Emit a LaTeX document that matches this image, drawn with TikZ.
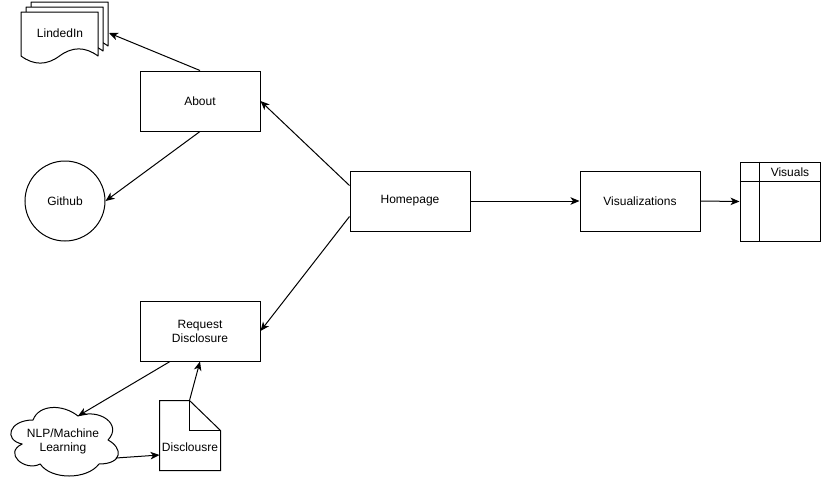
\documentclass[tikz,border=0pt]{standalone}
\usepackage{fontspec}
\setmainfont{Liberation Sans}
\usetikzlibrary{shapes.geometric,arrows.meta}

\begin{document}
\begin{tikzpicture}[x=1pt,y=-1pt,line width=1pt,
  txt/.style={font=\fontsize{12}{14}\selectfont,align=center,inner sep=0pt},
  box/.style={txt,draw,rectangle,minimum width=120pt,minimum height=60pt},
  link/.style={-{Stealth[length=9pt,width=7.5pt,inset=2.5pt]}},
  page/.style={draw,fill=white,line join=round}]

\useasboundingbox (0,0) rectangle (821,482);

% stacked pages of the LindedIn document
\foreach \px/\py in {31/2,26/7,21/12}{
  \begin{scope}[shift={(\px,\py)}]
    \path[page] (0,0) -- (77,0) -- (77,44)
      .. controls (64.17,34.5) and (51.33,34.5) .. (38.5,44)
      .. controls (25.67,53.5) and (12.83,53.5) .. (0,44) -- cycle;
  \end{scope}
}
\node[txt] (linkedin) at (60,33) {LindedIn};
\coordinate (linkedinEdge) at (109,33);

% main boxes
\node[box] (about)    at (200,101) {About};
\node[box] (homepage) at (410,201) {Homepage};
\node[box] (viz)      at (640,201) {Visualizations};
\node[box] (request)  at (200,331) {Request\\Disclosure};

% Github circle
\node[txt,draw,circle,minimum size=80pt] (github) at (65,201) {Github};

% Visuals table
\node[draw,rectangle,minimum width=80pt,minimum height=79pt,inner sep=0pt] (visuals) at (780,201.5) {};
\draw ([yshift=-20pt]visuals.north west) -- ([yshift=-20pt]visuals.north east);
\draw ([xshift=20pt]visuals.north west) -- ([xshift=20pt]visuals.south west);
\node[txt] (visualsTitle) at (790,172) {Visuals};

% NLP cloud, drawn inside a 120 x 80 frame
\begin{scope}[shift={(3,400)},x=120pt,y=-80pt]
  \draw[line join=round] (0.25,0.25)
    .. controls (0.05,0.25) and (0,0.5) .. (0.16,0.55)
    .. controls (0,0.66) and (0.18,0.9) .. (0.31,0.8)
    .. controls (0.4,1) and (0.7,1) .. (0.8,0.8)
    .. controls (1,0.8) and (1,0.6) .. (0.875,0.5)
    .. controls (1,0.3) and (0.8,0.1) .. (0.625,0.2)
    .. controls (0.5,0.05) and (0.3,0.05) .. (0.25,0.25) -- cycle;
  \coordinate (nlpTop) at (0.625,0.2);
  \coordinate (nlpRight) at (0.94,0.725);
\end{scope}
\node[txt] (nlp) at (63,441) {NLP/Machine\\Learning};

% Disclousre note with folded corner
\node[minimum width=60pt,minimum height=69pt,inner sep=0pt] (disc) at (190,435.5) {};
\draw[line join=miter] (disc.north west) -- ([xshift=30pt]disc.north west)
  -- ([yshift=-30pt]disc.north east) -- (disc.south east) -- (disc.south west) -- cycle;
\draw ([xshift=30pt]disc.north west) -- ([xshift=30pt,yshift=-30pt]disc.north west)
  -- ([yshift=-30pt]disc.north east);
\node[txt] (discText) at (190,447) {Disclousre};

% connectors
\draw[link] (about.north) -- (linkedinEdge);
\draw[link] (about.south) -- (github.east);
\draw[link] ([yshift=-15pt]homepage.north west) -- (about.east);
\draw[link] ([yshift=15pt]homepage.south west) -- (request.east);
\draw[link] (homepage.east) -- (viz.west);
\draw[link] (viz.east) -- (visuals.west);
\draw[link] ([xshift=-30pt]request.south) -- (nlpTop);
\draw[link] ([xshift=30pt]disc.north west) -- (request.south);
\draw[link] (nlpRight) -- ([yshift=-19.5pt]disc.west);

\end{tikzpicture}
\end{document}
